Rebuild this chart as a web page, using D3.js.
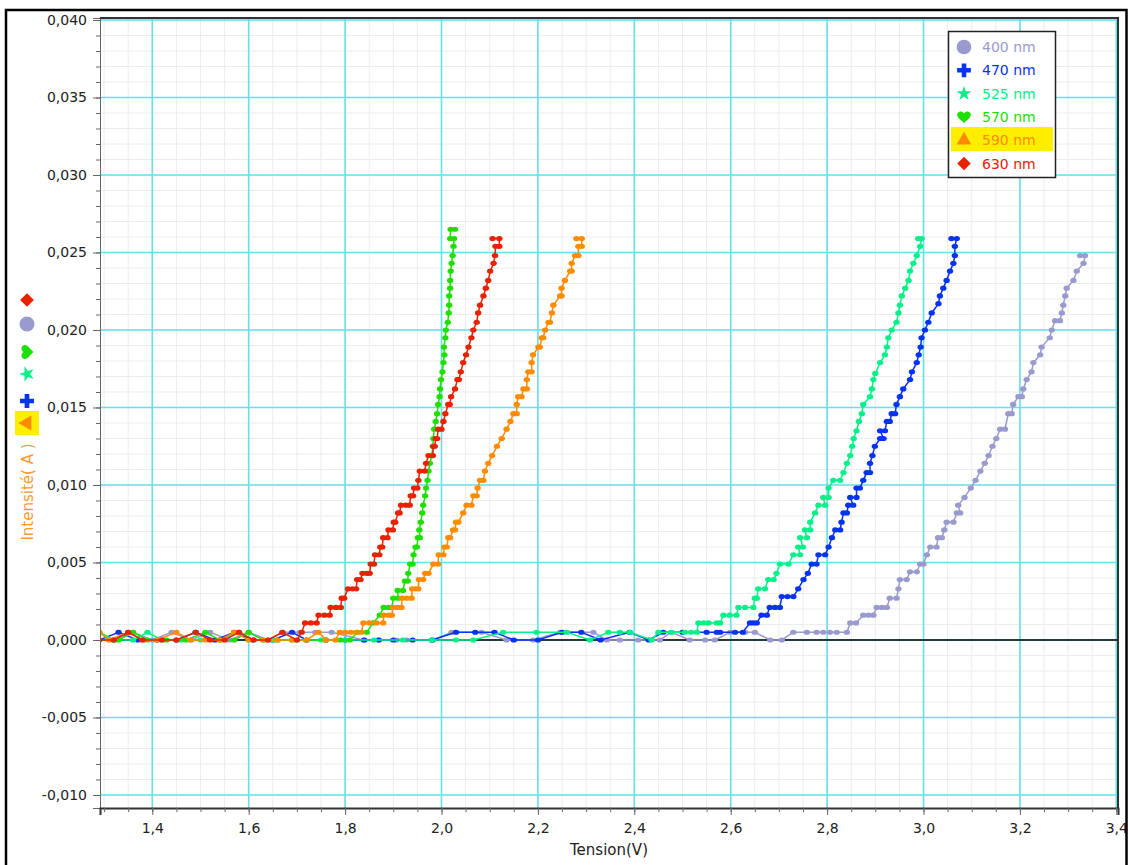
<!DOCTYPE html>
<html>
<head>
<meta charset="utf-8">
<script src="https://cdnjs.cloudflare.com/ajax/libs/d3/7.8.5/d3.min.js"></script>
<style>
body { margin: 0; background: #fff; }
svg text { font-family: "DejaVu Sans", sans-serif; }
</style>
</head>
<body>
<svg id="chart" width="1128" height="865"></svg>
<script>
// measured points [tension (V), intensite (A)]
let s400 = [[1.29,0.0005],[1.32,0],[1.36,0.0005],[1.40,0],[1.44,0.0005],[1.48,0],[1.52,0.0005],[1.56,0],[1.60,0.0005],[1.64,0],[1.67,0.0005],[1.706,0.0005],[1.738,0.0005],[1.772,0.0005],[1.838,0],[1.869,0],[1.907,0],[1.928,0],[1.983,0],[2.021,0.0005],[2.083,0.0005],[2.135,0],[2.190,0],[2.246,0.0005],[2.315,0.0005],[2.343,0],[2.370,0],[2.408,0],[2.453,0],[2.477,0.0005],[2.515,0],[2.547,0],[2.567,0],[2.599,0.0005],[2.630,0.0005],[2.650,0.0005],[2.682,0],[2.706,0],[2.730,0.0005],[2.758,0.0005],[2.778,0.0005],[2.792,0.0005],[2.806,0.0005],[2.820,0.0005],[2.841,0.0005],
    [2.848,0.0011],[2.860,0.0011],[2.875,0.0016],[2.886,0.0016],[2.896,0.0016],[2.903,0.0021],[2.914,0.0021],[2.924,0.0021],[2.930,0.0027],[2.944,0.0027],[2.948,0.0033],[2.951,0.0039],[2.965,0.0039],[2.972,0.0044],[2.986,0.0044],[2.993,0.0049],[3.000,0.0049],[3.007,0.0055],[3.014,0.0060],[3.027,0.0060],[3.030,0.0066],[3.038,0.0066],[3.043,0.0071],[3.048,0.0076],[3.062,0.0076],[3.069,0.0082],[3.076,0.0082],[3.072,0.0087],[3.085,0.0092],[3.098,0.0098],[3.108,0.0103],[3.118,0.0109],[3.127,0.0114],[3.135,0.0119],[3.143,0.0125],[3.151,0.0130],[3.159,0.0136],[3.169,0.0136],[3.176,0.0146],[3.183,0.0146],[3.186,0.0152],[3.197,0.0157],[3.204,0.0157],[3.207,0.0162],[3.214,0.0168],[3.224,0.0173],[3.228,0.0179],[3.242,0.0184],[3.245,0.0189],[3.262,0.0195],[3.266,0.0200],[3.273,0.0206],[3.283,0.0206],[3.287,0.0211],[3.290,0.0216],[3.294,0.0222],[3.297,0.0227],[3.311,0.0232],[3.318,0.0238],[3.332,0.0243],[3.335,0.0248],[3.325,0.0248]];

let s470 = [[1.29,0],[1.33,0.0005],[1.37,0],[1.41,0],[1.45,0],[1.49,0.0005],[1.53,0],[1.57,0.0005],[1.61,0],[1.65,0],[1.69,0.0005],[1.72,0],[1.76,0],[1.80,0],[1.84,0],[1.87,0],[1.90,0],[1.94,0],[1.98,0],[2.03,0.0005],[2.07,0.0005],[2.11,0.0005],[2.15,0],[2.20,0],[2.25,0.0005],[2.29,0.0005],[2.33,0],[2.39,0.0005],[2.43,0],[2.46,0.0005],[2.50,0.0005],[2.55,0.0005],[2.571,0.0005],[2.578,0.0005],[2.609,0.0005],[2.625,0.0005],
    [2.640,0.0011],[2.647,0.0011],[2.654,0.0011],[2.664,0.0016],[2.675,0.0016],[2.681,0.0021],[2.692,0.0021],[2.702,0.0021],[2.706,0.0028],[2.718,0.0028],[2.730,0.0028],[2.740,0.0033],[2.751,0.0039],[2.760,0.0043],[2.768,0.0049],[2.778,0.0049],[2.782,0.0055],[2.796,0.0055],[2.803,0.0060],[2.810,0.0066],[2.817,0.0071],[2.827,0.0071],[2.830,0.0076],[2.834,0.0082],[2.841,0.0082],[2.844,0.0087],[2.854,0.0087],[2.848,0.0092],[2.861,0.0092],[2.861,0.0098],[2.868,0.0098],[2.875,0.0103],[2.882,0.0108],[2.889,0.0108],[2.889,0.0114],[2.894,0.0119],[2.899,0.0125],[2.910,0.0130],[2.917,0.0130],[2.910,0.0135],[2.920,0.0135],[2.924,0.0141],[2.930,0.0141],[2.934,0.0146],[2.941,0.0146],[2.944,0.0152],[2.951,0.0157],[2.958,0.0162],[2.972,0.0168],[2.976,0.0173],[2.986,0.0179],[2.990,0.0184],[2.994,0.0189],[2.996,0.0195],[3.003,0.0200],[3.010,0.0205],[3.017,0.0211],[3.031,0.0217],[3.034,0.0222],[3.041,0.0227],[3.048,0.0232],[3.055,0.0238],[3.062,0.0243],[3.065,0.0248],[3.065,0.0254],[3.069,0.0259],[3.058,0.0259]];

let s525 = [[1.29,0.0005],[1.32,0],[1.36,0],[1.39,0.0005],[1.42,0],[1.46,0],[1.50,0],[1.54,0],[1.58,0.0005],[1.61,0],[1.65,0],[1.70,0],[1.75,0],[1.80,0],[1.86,0],[1.92,0],[1.98,0],[2.03,0],[2.066,0],[2.128,0.0005],[2.197,0.0005],[2.260,0.0005],[2.308,0],[2.346,0.0005],[2.370,0.0005],[2.391,0.0005],[2.436,0],[2.450,0.0005],[2.477,0.0005],[2.505,0.0005],[2.518,0.0005],[2.530,0.0005],
    [2.533,0.0011],[2.544,0.0011],[2.554,0.0011],[2.571,0.0011],[2.578,0.0011],[2.585,0.0016],[2.598,0.0016],[2.612,0.0016],[2.616,0.0021],[2.630,0.0021],[2.647,0.0021],[2.650,0.0027],[2.654,0.0027],[2.657,0.0033],[2.671,0.0033],[2.678,0.0039],[2.689,0.0039],[2.695,0.0043],[2.702,0.0049],[2.720,0.0049],[2.730,0.0055],[2.744,0.0055],[2.740,0.0060],[2.750,0.0060],[2.744,0.0066],[2.758,0.0066],[2.754,0.0071],[2.765,0.0071],[2.765,0.0076],[2.775,0.0082],[2.782,0.0087],[2.796,0.0087],[2.792,0.0092],[2.803,0.0092],[2.803,0.0098],[2.813,0.0103],[2.827,0.0103],[2.834,0.0108],[2.841,0.0114],[2.848,0.0119],[2.852,0.0125],[2.855,0.0130],[2.861,0.0135],[2.866,0.0141],[2.872,0.0146],[2.875,0.0152],[2.889,0.0157],[2.893,0.0162],[2.896,0.0168],[2.900,0.0172],[2.910,0.0179],[2.920,0.0184],[2.924,0.0189],[2.927,0.0195],[2.934,0.0200],[2.944,0.0205],[2.948,0.0211],[2.951,0.0216],[2.955,0.0222],[2.962,0.0227],[2.969,0.0232],[2.972,0.0238],[2.979,0.0243],[2.986,0.0248],[2.993,0.0254],[2.996,0.0259],[2.989,0.0259]];

let s570 = [[1.29,0],[1.33,0],[1.36,0.0005],[1.39,0],[1.43,0],[1.47,0],[1.51,0.0005],[1.54,0],[1.57,0],[1.60,0.0005],[1.63,0],[1.66,0],[1.69,0],[1.72,0],[1.76,0],[1.79,0],[1.81,0],[1.826,0.0005],[1.845,0.0005],[1.858,0.0011],
    [1.872,0.0016],[1.880,0.0021],[1.890,0.0021],[1.897,0.0021],[1.900,0.0027],[1.910,0.0027],[1.909,0.0032],[1.920,0.0032],[1.924,0.0038],[1.930,0.0038],[1.931,0.0043],[1.935,0.0049],[1.940,0.0049],[1.942,0.0055],[1.946,0.0060],[1.949,0.0060],[1.951,0.0066],[1.955,0.0066],[1.954,0.0071],[1.957,0.0076],[1.960,0.0082],[1.962,0.0087],[1.966,0.0093],[1.968,0.0098],[1.971,0.0103],[1.973,0.0109],[1.976,0.0114],[1.980,0.0119],[1.982,0.0125],[1.983,0.0130],[1.985,0.0136],[1.988,0.0141],[1.991,0.0146],[1.993,0.0152],[1.996,0.0157],[1.997,0.0162],[1.999,0.0168],[2.002,0.0173],[2.004,0.0179],[2.006,0.0184],[2.005,0.0189],[2.008,0.0195],[2.009,0.0200],[2.013,0.0205],[2.015,0.0211],[2.016,0.0216],[2.016,0.0222],[2.018,0.0227],[2.018,0.0232],[2.019,0.0238],[2.021,0.0243],[2.023,0.0248],[2.025,0.0254],[2.026,0.0259],[2.018,0.0259],[2.019,0.0265],[2.028,0.0265]];

let s590 = [[1.29,0.0005],[1.31,0],[1.35,0.0005],[1.38,0],[1.41,0],[1.45,0.0005],[1.48,0],[1.51,0],[1.54,0],[1.57,0.0005],[1.60,0],[1.63,0],[1.66,0],[1.69,0],[1.72,0],[1.745,0.0005],[1.76,0],[1.78,0],[1.789,0.0005],[1.800,0.0005],[1.812,0.0005],[1.823,0.0005],[1.834,0.0005],
    [1.838,0.0011],[1.850,0.0011],[1.865,0.0011],[1.879,0.0011],[1.880,0.0016],[1.890,0.0016],[1.897,0.0016],[1.899,0.0021],[1.908,0.0021],[1.917,0.0021],[1.918,0.0027],[1.928,0.0027],[1.938,0.0027],[1.939,0.0033],[1.946,0.0033],[1.952,0.0033],[1.953,0.0039],[1.962,0.0039],[1.966,0.0043],[1.973,0.0043],[1.983,0.0049],[1.993,0.0049],[1.994,0.0055],[2.004,0.0055],[2.006,0.0060],[2.011,0.0060],[2.014,0.0066],[2.018,0.0066],[2.024,0.0071],[2.028,0.0071],[2.030,0.0076],[2.035,0.0076],[2.045,0.0082],[2.052,0.0087],[2.062,0.0087],[2.066,0.0093],[2.073,0.0093],[2.075,0.0098],[2.080,0.0103],[2.087,0.0103],[2.090,0.0109],[2.097,0.0114],[2.105,0.0119],[2.115,0.0125],[2.125,0.0130],[2.135,0.0136],[2.143,0.0141],[2.149,0.0146],[2.156,0.0146],[2.156,0.0152],[2.159,0.0157],[2.166,0.0157],[2.170,0.0162],[2.177,0.0162],[2.177,0.0168],[2.180,0.0173],[2.187,0.0173],[2.187,0.0179],[2.190,0.0184],[2.201,0.0189],[2.204,0.0189],[2.208,0.0195],[2.211,0.0195],[2.215,0.0200],[2.222,0.0205],[2.225,0.0205],[2.229,0.0211],[2.232,0.0216],[2.246,0.0222],[2.249,0.0222],[2.249,0.0227],[2.256,0.0232],[2.267,0.0238],[2.270,0.0238],[2.270,0.0243],[2.277,0.0248],[2.284,0.0248],[2.284,0.0254],[2.291,0.0254],[2.291,0.0259],[2.280,0.0259]];

let s630 = [[1.29,0],[1.32,0],[1.35,0.0005],[1.38,0],[1.42,0],[1.45,0],[1.49,0.0005],[1.52,0],[1.55,0],[1.58,0.0005],[1.61,0],[1.64,0],[1.67,0.0005],[1.70,0],[1.71,0.0005],
    [1.717,0.0011],[1.729,0.0011],[1.741,0.0011],[1.745,0.0016],[1.757,0.0016],[1.768,0.0016],[1.770,0.0021],[1.781,0.0021],[1.791,0.0021],[1.793,0.0027],[1.798,0.0027],[1.806,0.0033],[1.815,0.0033],[1.823,0.0033],[1.825,0.0039],[1.832,0.0039],[1.836,0.0043],[1.845,0.0043],[1.851,0.0043],[1.853,0.0049],[1.860,0.0049],[1.862,0.0055],[1.871,0.0055],[1.873,0.0060],[1.877,0.0060],[1.879,0.0066],[1.888,0.0066],[1.890,0.0071],[1.899,0.0071],[1.901,0.0076],[1.904,0.0076],[1.910,0.0082],[1.913,0.0082],[1.916,0.0087],[1.926,0.0087],[1.934,0.0087],[1.936,0.0093],[1.941,0.0093],[1.943,0.0098],[1.950,0.0098],[1.952,0.0103],[1.955,0.0109],[1.965,0.0109],[1.968,0.0114],[1.973,0.0119],[1.982,0.0119],[1.983,0.0125],[1.986,0.0125],[1.988,0.0130],[1.991,0.0130],[1.993,0.0136],[2.000,0.0136],[2.004,0.0141],[2.008,0.0146],[2.014,0.0152],[2.017,0.0152],[2.020,0.0157],[2.028,0.0162],[2.033,0.0168],[2.036,0.0168],[2.040,0.0173],[2.045,0.0179],[2.051,0.0184],[2.056,0.0189],[2.062,0.0195],[2.066,0.0200],[2.073,0.0205],[2.076,0.0211],[2.080,0.0216],[2.087,0.0222],[2.092,0.0227],[2.097,0.0232],[2.101,0.0238],[2.108,0.0243],[2.111,0.0248],[2.112,0.0254],[2.120,0.0254],[2.120,0.0259],[2.106,0.0259]];

let seriesNames = ["400 nm", "470 nm", "525 nm", "570 nm", "590 nm", "630 nm"];
let xTicks = [1.4, 1.6, 1.8, 2.0, 2.2, 2.4, 2.6, 2.8, 3.0, 3.2, 3.4];
let yTicks = [-0.010, -0.005, 0.000, 0.005, 0.010, 0.015, 0.020, 0.025, 0.030, 0.035, 0.040];

let colors = ["#9a9ace", "#0632f2", "#06f08a", "#1ee000", "#ff8c00", "#e62200"];

// heart shape for the 570 nm symbol
let symbolHeart = {
    draw: function(ctx, size) {
        let k = Math.sqrt(size) / 13;
        ctx.moveTo(0, 6.5 * k);
        ctx.bezierCurveTo(-2 * k, 4 * k, -7 * k, 1 * k, -7 * k, -2 * k);
        ctx.bezierCurveTo(-7 * k, -5.5 * k, -2.5 * k, -7 * k, 0, -3.5 * k);
        ctx.bezierCurveTo(2.5 * k, -7 * k, 7 * k, -5.5 * k, 7 * k, -2 * k);
        ctx.bezierCurveTo(7 * k, 1 * k, 2 * k, 4 * k, 0, 6.5 * k);
        ctx.closePath();
    }
};
let symbols = [
    {type: d3.symbolCircle, size: 170, rot: 0},
    {type: d3.symbolCross, size: 105, rot: 0},
    {type: d3.symbolStar, size: 70, rot: 0},
    {type: symbolHeart, size: 160, rot: 0},
    {type: d3.symbolTriangle, size: 95, rot: 0},
    {type: d3.symbolSquare, size: 90, rot: 45}
];

let allData = [s400, s470, s525, s570, s590, s630];

let svg = d3.select("#chart"),
    pLeft = 100, pRight = 1118, pTop = 18, pBottom = 808;

let x = d3.scaleLinear().domain([1.2915, 3.4035]).range([pLeft, pRight]),
    y = d3.scaleLinear().domain([-0.01084, 0.04013]).range([pBottom, pTop]);

let loc = d3.formatLocale({decimal: ",", thousands: ".", grouping: [3], currency: ["", ""], minus: "-"});
let fy = loc.format(".3f"), fx = loc.format(".1f");

svg.append("rect").attr("width", 1128).attr("height", 865).attr("fill", "#fff");

// minor grid
let xMinor = d3.range(1.30, 3.41, 0.05).map(d => +d.toFixed(2));
let yMinor = d3.range(-10, 41, 1).map(d => d / 1000);

svg.append("g").selectAll("line")
    .data(xMinor).enter().append("line")
    .attr("x1", d => x(d)).attr("x2", d => x(d))
    .attr("y1", pTop).attr("y2", pBottom)
    .attr("stroke", "#ececec").attr("stroke-width", 1);
svg.append("g").selectAll("line")
    .data(yMinor).enter().append("line")
    .attr("x1", pLeft).attr("x2", pRight)
    .attr("y1", d => y(d)).attr("y2", d => y(d))
    .attr("stroke", "#ececec").attr("stroke-width", 1);

// major grid
svg.append("g").selectAll("line")
    .data(xTicks).enter().append("line")
    .attr("x1", d => x(d)).attr("x2", d => x(d))
    .attr("y1", pTop).attr("y2", pBottom)
    .attr("stroke", "#62e2ea").attr("stroke-width", 1.6);
svg.append("g").selectAll("line")
    .data(yTicks).enter().append("line")
    .attr("x1", pLeft).attr("x2", pRight)
    .attr("y1", d => y(d)).attr("y2", d => y(d))
    .attr("stroke", "#62e2ea").attr("stroke-width", 1.6);

// zero line
svg.append("line")
    .attr("x1", pLeft).attr("x2", pRight)
    .attr("y1", y(0)).attr("y2", y(0))
    .attr("stroke", "#000").attr("stroke-width", 1.3);

// curves
svg.append("clipPath").attr("id", "clip")
    .append("rect").attr("x", pLeft).attr("y", pTop)
    .attr("width", pRight - pLeft).attr("height", pBottom - pTop);

let line = d3.line().x(d => x(d[0])).y(d => y(d[1]));
let plot = svg.append("g").attr("clip-path", "url(#clip)");

allData.forEach(function(data, i) {
    plot.append("path")
        .datum(data)
        .attr("d", line)
        .attr("fill", "none")
        .attr("stroke", colors[i])
        .attr("stroke-width", 1.5);
    plot.selectAll(".pt" + i)
        .data(data)
        .enter().append("ellipse")
        .attr("class", "pt" + i)
        .attr("cx", d => x(d[0]))
        .attr("cy", d => y(d[1]))
        .attr("rx", 3.2).attr("ry", 2.6)
        .attr("fill", colors[i]);
});

// axes
let yAxis = svg.append("g")
    .attr("transform", "translate(" + pLeft + ",0)")
    .call(d3.axisLeft(y).tickValues(yTicks).tickFormat(fy).tickSize(7).tickPadding(6));
svg.append("g")
    .attr("transform", "translate(" + pLeft + ",0)")
    .call(d3.axisLeft(y).tickValues(yMinor).tickFormat("").tickSize(4))
    .select(".domain").remove();

let xAxis = svg.append("g")
    .attr("transform", "translate(0," + pBottom + ")")
    .call(d3.axisBottom(x).tickValues(xTicks).tickFormat(fx).tickSize(7).tickPadding(8));
svg.append("g")
    .attr("transform", "translate(0," + pBottom + ")")
    .call(d3.axisBottom(x).tickValues(xMinor).tickFormat("").tickSize(4))
    .select(".domain").remove();

svg.selectAll(".tick line").attr("stroke", "#666");
svg.selectAll(".tick text").attr("fill", "#222").attr("font-size", "14px")
    .attr("font-family", "DejaVu Sans");
yAxis.select(".domain").attr("stroke", "#666");
xAxis.select(".domain").attr("stroke", "#333").attr("stroke-width", 2);

// plot frame top and right
svg.append("line").attr("x1", pLeft).attr("x2", pRight + 1).attr("y1", pTop).attr("y2", pTop)
    .attr("stroke", "#333").attr("stroke-width", 2);
svg.append("line").attr("x1", pRight).attr("x2", pRight).attr("y1", pTop).attr("y2", pBottom)
    .attr("stroke", "#333").attr("stroke-width", 2);

// axis titles
svg.append("text")
    .attr("x", 609).attr("y", 855)
    .attr("text-anchor", "middle")
    .attr("font-size", "15px").attr("fill", "#222")
    .text("Tension(V)");

let yTitle = svg.append("g").attr("transform", "translate(28,492) rotate(-90)");
yTitle.append("text")
    .attr("x", 0).attr("y", 5)
    .attr("text-anchor", "middle")
    .attr("font-size", "15px").attr("fill", "#ff9830")
    .text("Intensité( A )");

// symbol stack next to the y title (rotated with it)
let stackOrder = [4, 1, 2, 3, 0, 5],
    stackPos = [69, 91, 118, 140, 168, 192];
yTitle.append("rect")
    .attr("x", 57).attr("y", -13).attr("width", 24).attr("height", 24)
    .attr("fill", "#ffee00");
stackOrder.forEach(function(s, j) {
    yTitle.append("path")
        .attr("transform", "translate(" + stackPos[j] + ",-1) rotate(" + symbols[s].rot + ")")
        .attr("d", d3.symbol().type(symbols[s].type).size(symbols[s].size * 1.05))
        .attr("fill", colors[s]);
});

// legend
let lg = svg.append("g");
lg.append("rect")
    .attr("x", 948.5).attr("y", 31.5).attr("width", 107).attr("height", 146)
    .attr("fill", "#fff").attr("stroke", "#222").attr("stroke-width", 1.5);
lg.append("rect")
    .attr("x", 951).attr("y", 127).attr("width", 102).attr("height", 24)
    .attr("fill", "#ffee00");
seriesNames.forEach(function(name, i) {
    let cy = 47 + i * 23.3;
    lg.append("path")
        .attr("transform", "translate(964," + cy + ") rotate(" + symbols[i].rot + ")")
        .attr("d", d3.symbol().type(symbols[i].type).size(symbols[i].size))
        .attr("fill", colors[i]);
    lg.append("text")
        .attr("x", 982).attr("y", cy + 5)
        .attr("font-size", "14px")
        .attr("fill", colors[i])
        .text(name);
});

// outer frame
svg.append("rect")
    .attr("x", 6).attr("y", 10).attr("width", 1120.5).attr("height", 870)
    .attr("fill", "none").attr("stroke", "#000").attr("stroke-width", 2.5);
</script>
</body>
</html>
